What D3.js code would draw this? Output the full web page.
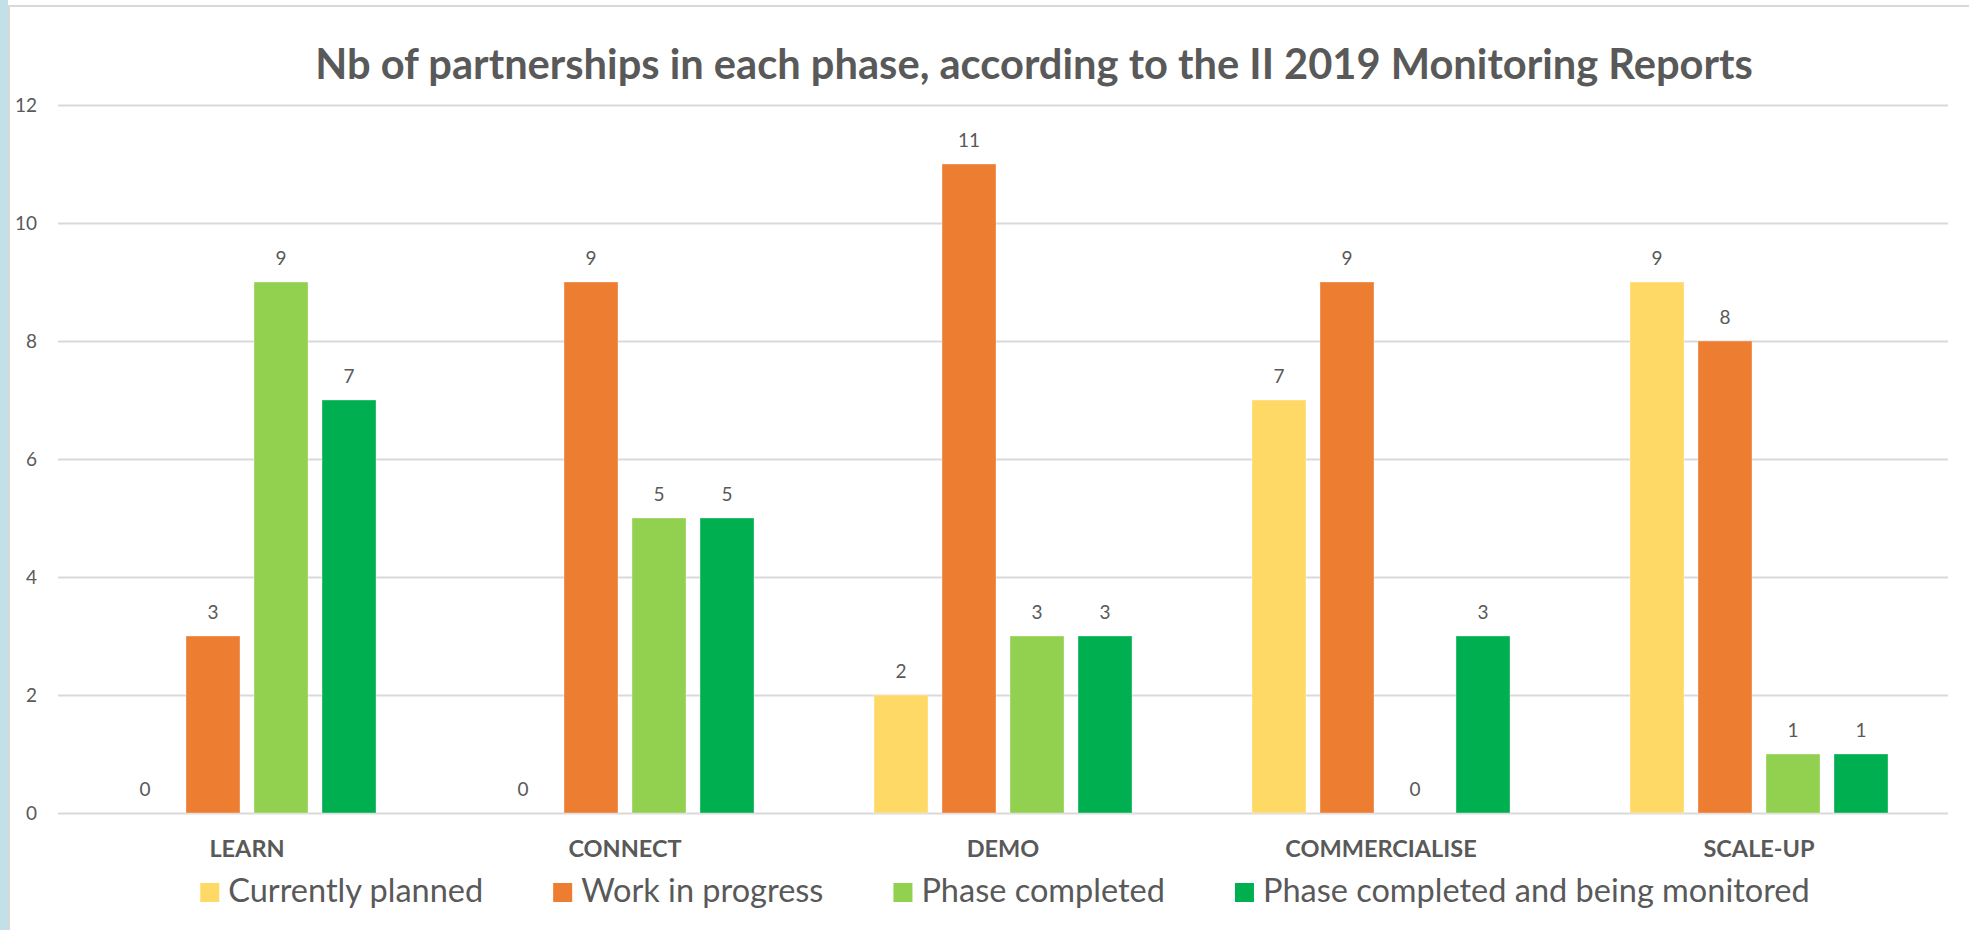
<!DOCTYPE html>
<html><head><meta charset="utf-8">
<script src="https://cdn.jsdelivr.net/npm/d3@7"></script>
<style>html,body{margin:0;padding:0;background:#fff;overflow:hidden}</style>
</head><body><svg id="c" width="1969" height="930"></svg>
<script>
const categories = ["LEARN","CONNECT","DEMO","COMMERCIALISE","SCALE-UP"];
const seriesNames = ["Currently planned","Work in progress","Phase completed","Phase completed and being monitored"];
const currentlyPlanned = [0,0,2,7,9];
const workInProgress = [3,9,11,9,8];
const phaseCompleted = [9,5,3,0,1];
const phaseMonitored = [7,5,3,3,1];
const yTicks = [0,2,4,6,8,10,12];
const seriesColors = ["#FFD966","#ED7D31","#92D050","#00B050"];
const titleText = "Nb of partnerships in each phase, according to the II 2019 Monitoring Reports";

const seriesValues = [currentlyPlanned, workInProgress, phaseCompleted, phaseMonitored];
const textColor = "#595959";
const font = "Lato, 'Open Sans', sans-serif";

const svg = d3.select("#c");
svg.append("rect").attr("x",0).attr("y",0).attr("width",1969).attr("height",930).attr("fill","#fff");
svg.append("rect").attr("x",0).attr("y",0).attr("width",8).attr("height",930).attr("fill","#C1E1E7");
svg.append("line").attr("x1",9).attr("x2",9).attr("y1",5).attr("y2",930).attr("stroke","#D9D9D9").attr("stroke-width",2);
svg.append("line").attr("x1",8).attr("x2",1969).attr("y1",6).attr("y2",6).attr("stroke","#D9D9D9").attr("stroke-width",2);

const plotL = 58, plotR = 1948;
const y = d3.scaleLinear().domain([0,12]).range([813,105]);
const x0 = d3.scaleBand().domain(categories).range([plotL,plotR]);
const x1 = d3.scaleBand().domain(seriesNames).range([0,x0.bandwidth()]).paddingInner(0.206).paddingOuter(0.882);

// gridlines + y labels
const yAxis = d3.axisLeft(y).tickValues(yTicks).tickSize(-(plotR-plotL)).tickPadding(21);
const gy = svg.append("g").attr("transform",`translate(${plotL},0)`).call(yAxis);
gy.select(".domain").remove();
gy.selectAll(".tick line").attr("stroke","#D9D9D9").attr("stroke-width",2);
gy.selectAll(".tick text").attr("fill",textColor).attr("font-family",font).attr("font-size",19).attr("dy","0.35em");

// x labels
const xAxis = d3.axisBottom(x0).tickSize(0).tickPadding(0);
const gx = svg.append("g").attr("transform",`translate(0,${y(0)})`).call(xAxis);
gx.select(".domain").remove();
gx.selectAll(".tick text").attr("y",44).attr("dy",0).attr("fill",textColor)
  .attr("font-family",font).attr("font-weight","bold").attr("font-size",23.5);

// bars
const data = [];
categories.forEach((c,ci)=>{
  seriesNames.forEach((s,si)=>{
    data.push({cat:c, ser:s, si, v:seriesValues[si][ci]});
  });
});
const bars = svg.append("g");
bars.selectAll("rect").data(data.filter(d=>d.v>0)).join("rect")
  .attr("x",d=>x0(d.cat)+x1(d.ser))
  .attr("y",d=>y(d.v))
  .attr("width",x1.bandwidth())
  .attr("height",d=>y(0)-y(d.v))
  .attr("fill",d=>seriesColors[d.si])
  .attr("stroke","#ffffff").attr("stroke-opacity",0.35).attr("stroke-width",1);

svg.append("g").selectAll("text").data(data).join("text")
  .attr("x",d=>x0(d.cat)+x1(d.ser)+x1.bandwidth()/2)
  .attr("y",d=>y(d.v)-17)
  .attr("text-anchor","middle")
  .attr("fill",textColor).attr("font-family",font).attr("font-size",19)
  .text(d=>d.v);

// title
const title = svg.append("text").attr("x",1034).attr("y",79).attr("text-anchor","middle")
  .attr("fill",textColor).attr("font-family",font).attr("font-weight","bold").attr("font-size",40)
  .text(titleText);
const tw = title.node().getComputedTextLength();
title.attr("font-size", 40*1438/tw);

// legend
const lg = svg.append("g");
let cx = 0;
seriesNames.forEach((s,i)=>{
  const g = lg.append("g").attr("transform",`translate(${cx},0)`);
  g.append("rect").attr("x",0).attr("y",883).attr("width",19).attr("height",19).attr("fill",seriesColors[i]);
  const t = g.append("text").attr("x",28).attr("y",902).attr("fill",textColor)
    .attr("font-family",font).attr("font-size",32.5).text(s);
  cx += 28 + t.node().getComputedTextLength() + 70;
});
const total = cx - 70;
lg.attr("transform",`translate(${1005-total/2},0)`);
</script></body></html>
